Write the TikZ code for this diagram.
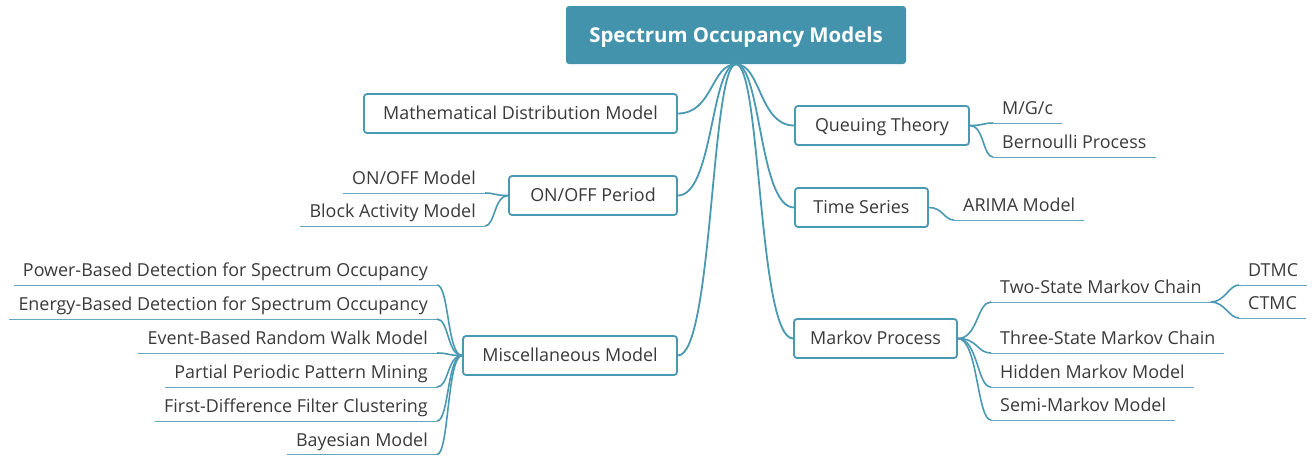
\documentclass[tikz,border=0pt]{standalone}
\usepackage{fontspec}
\setmainfont{Open Sans}
\usepackage{tikz}
\usetikzlibrary{positioning}
\definecolor{smteal}{HTML}{4393AD}
\definecolor{smline}{HTML}{4A99B2}
\definecolor{smtext}{HTML}{3A3A3A}

\begin{document}
\begin{tikzpicture}[x=1pt,y=-1pt,
  rootbox/.style={fill=smteal,rounded corners=3pt,text=white,font=\fontsize{20.4}{23}\selectfont\bfseries,minimum width=340pt,minimum height=58pt,text height=14.6pt,text depth=0pt},
  topic/.style={draw=smline,line width=1.8pt,fill=white,rounded corners=3pt,text=smtext,font=\fontsize{17.9}{21}\selectfont,minimum height=39pt,inner xsep=0pt,text height=12.8pt,text depth=0pt},
  leaf/.style={text=smtext,font=\fontsize{17.9}{21}\selectfont,inner xsep=9pt,inner ysep=0pt,text height=13pt,text depth=8pt},
  trunk/.style={draw=smline,line width=1.8pt},
  br/.style={draw=smline,line width=1.6pt},
  ul/.style={draw=smline!85,line width=1pt}]
  \useasboundingbox (0,0) rectangle (1316,455);

  \node[rootbox] (rt) at (736,35) {Spectrum Occupancy Models};

  % main topics: name/x/y/width/text
  \foreach \n/\x/\y/\w/\t in {math/520.5/113.5/313/{Mathematical Distribution Model},
      onoff/593/195.5/168/{ON/OFF Period},misc/570/355.5/214/{Miscellaneous Model},
      queue/882/125.5/174/{Queuing Theory},tseries/861.5/207.5/133/{Time Series},
      markov/875.5/338.5/163/{Markov Process}}
    \node[topic,minimum width=\w pt] (\n) at (\x,\y) {\t};

  \foreach \n in {math,onoff,misc}
    \draw[trunk] (rt.south) .. controls +(-25,0) and +(35,0) .. (\n.east);
  \foreach \n in {queue,tseries,markov}
    \draw[trunk] (rt.south) .. controls +(25,0) and +(-35,0) .. (\n.west);

  % left side leaves
  \foreach \n/\y/\t in {oo1/193/{ON/OFF Model},oo2/226/{Block Activity Model}} {
    \node[leaf,anchor=south east] (\n) at (485,\y) {\t};
    \draw[ul] (\n.south west) -- (\n.south east);
    \draw[br] (onoff.west) .. controls +(-14,0) and +(10,0) .. (\n.south east);
  }
  \foreach \n/\y/\t in {mi1/285/{Power-Based Detection for Spectrum Occupancy},
      mi2/319/{Energy-Based Detection for Spectrum Occupancy},
      mi3/353/{Event-Based Random Walk Model},mi4/387/{Partial Periodic Pattern Mining},
      mi5/421/{First-Difference Filter Clustering},mi6/454.5/{Bayesian Model}} {
    \node[leaf,anchor=south east] (\n) at (437,\y) {\t};
    \draw[ul] (\n.south west) -- (\n.south east);
    \draw[br] (misc.west) .. controls +(-15,0) and +(12,0) .. (\n.south east);
  }

  % right side leaves
  \foreach \n/\y/\t in {qt1/123/{M/G/c},qt2/157/{Bernoulli Process}} {
    \node[leaf,anchor=south west] (\n) at (993,\y) {\t};
    \draw[ul] (\n.south west) -- (\n.south east);
    \draw[br] (queue.east) .. controls +(14,0) and +(-10,0) .. (\n.south west);
  }
  \node[leaf,anchor=south west] (ts1) at (954,220) {ARIMA Model};
  \draw[ul] (ts1.south west) -- (ts1.south east);
  \draw[br] (tseries.east) .. controls +(14,0) and +(-10,0) .. (ts1.south west);
  \foreach \n/\y/\t in {mk1/302/{Two-State Markov Chain},mk2/353/{Three-State Markov Chain},
      mk3/387/{Hidden Markov Model},mk4/420/{Semi-Markov Model}} {
    \node[leaf,anchor=south west] (\n) at (991,\y) {\t};
    \draw[ul] (\n.south west) -- (\n.south east);
    \draw[br] (markov.east) .. controls +(20,0) and +(-14,0) .. (\n.south west);
  }
  \foreach \n/\y/\t in {dt/285/DTMC,ct/318/CTMC} {
    \node[leaf,anchor=south west] (\n) at (1239,\y) {\t};
    \draw[ul] (\n.south west) -- (\n.south east);
    \draw[br] (mk1.south east) .. controls +(14,0) and +(-10,0) .. (\n.south west);
  }
\end{tikzpicture}
\end{document}
